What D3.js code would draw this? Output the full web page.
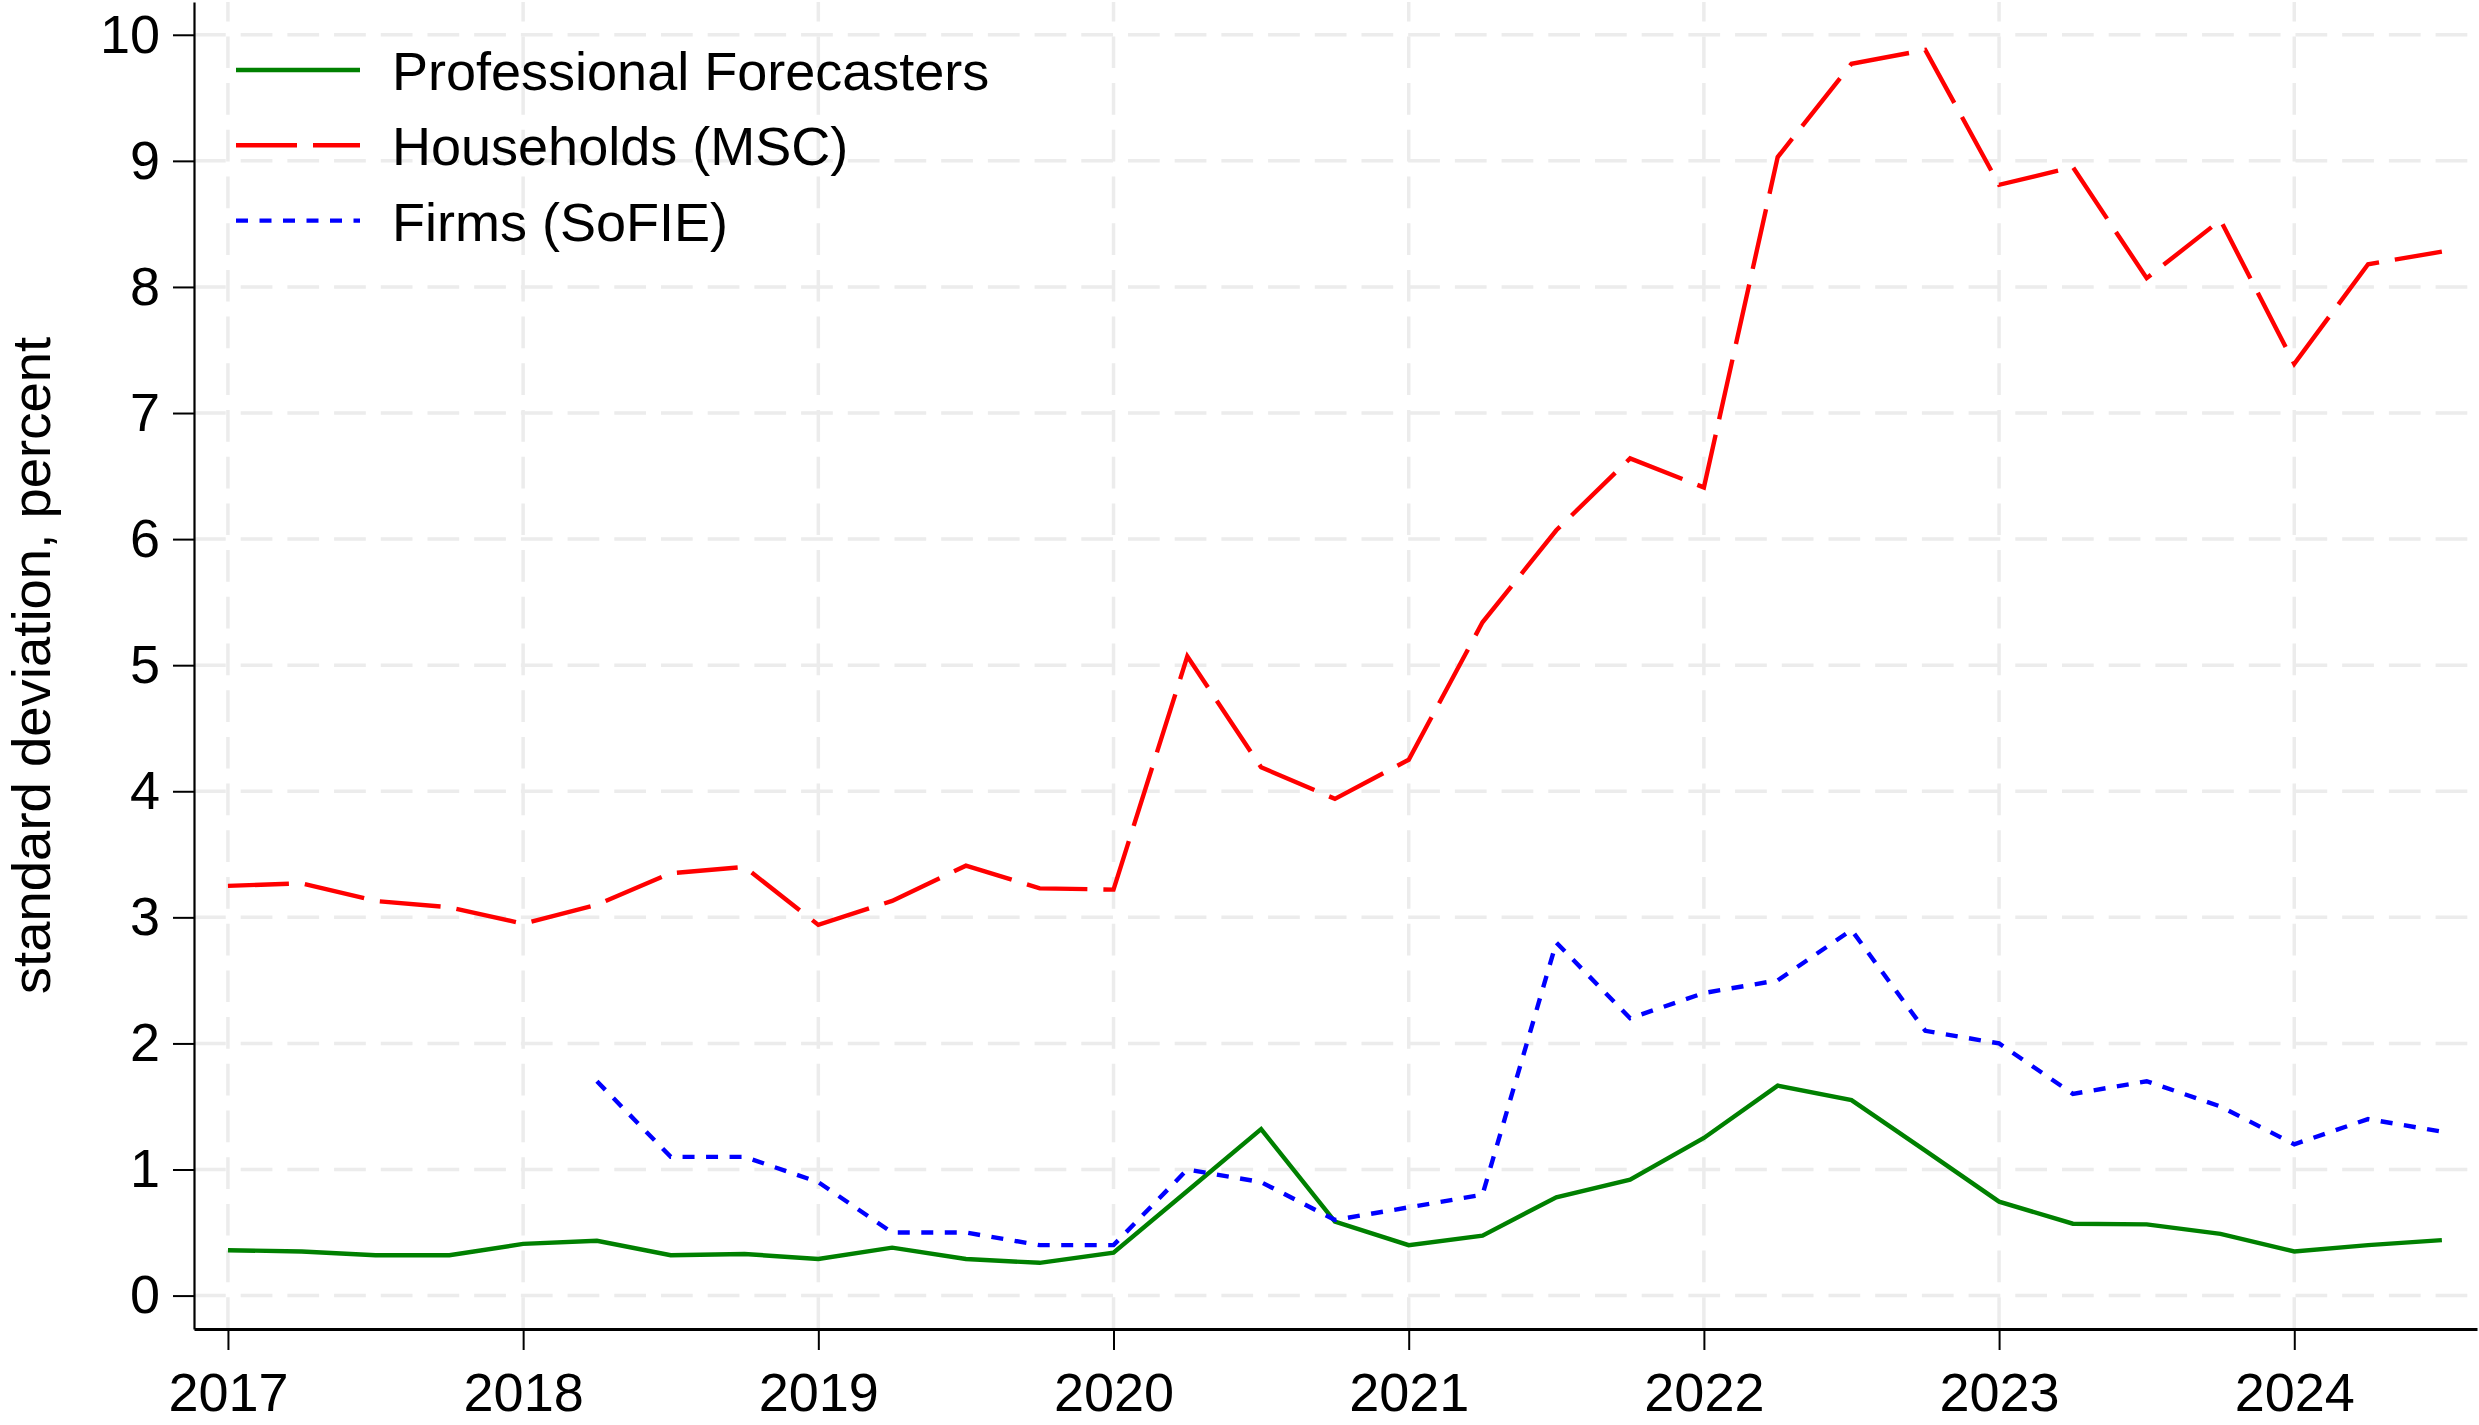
<!DOCTYPE html>
<html lang="en">
<head>
<meta charset="UTF-8">
<title>Dispersion of inflation expectations</title>
<script src="https://d3js.org/d3.v7.min.js"></script>
<style>
    body {
        margin: 0;
        background: #fff;
        font-family: "Liberation Sans", Arial, Helvetica, sans-serif;
    }
    svg { display: block; }
    .axis text {
        font-family: "Liberation Sans", Arial, Helvetica, sans-serif;
        font-size: 54px;
        fill: #000;
    }
    .axis path, .axis line { stroke: #000; }
</style>
</head>
<body>
<script>
// quarterly observations, 2017Q1 .. 2024Q3
const quarters = [
    2017.00, 2017.25, 2017.50, 2017.75,
    2018.00, 2018.25, 2018.50, 2018.75,
    2019.00, 2019.25, 2019.50, 2019.75,
    2020.00, 2020.25, 2020.50, 2020.75,
    2021.00, 2021.25, 2021.50, 2021.75,
    2022.00, 2022.25, 2022.50, 2022.75,
    2023.00, 2023.25, 2023.50, 2023.75,
    2024.00, 2024.25, 2024.50
];

const professional = [
    0.36, 0.35, 0.32, 0.32,
    0.41, 0.435, 0.32, 0.33,
    0.29, 0.38, 0.29, 0.26,
    0.34, 0.83, 1.32, 0.586,
    0.40, 0.475, 0.78, 0.92,
    1.25, 1.665, 1.55, 1.15,
    0.745, 0.57, 0.565, 0.49,
    0.35, 0.40, 0.44
];

const households = [
    3.25, 3.27, 3.13, 3.08,
    2.95, 3.10, 3.35, 3.40,
    2.94, 3.13, 3.41, 3.23,
    3.22, 5.07, 4.19, 3.94,
    4.25, 5.34, 6.07, 6.64,
    6.41, 9.03, 9.77, 9.88,
    8.81, 8.95, 8.07, 8.53,
    7.39, 8.18, 8.28
];

const firms = [
    null, null, null, null,
    null, 1.7, 1.1, 1.1,
    0.9, 0.5, 0.5, 0.4,
    0.4, 1.0, 0.9, 0.6,
    0.7, 0.8, 2.8, 2.2,
    2.4, 2.5, 2.9, 2.1,
    2.0, 1.6, 1.7, 1.5,
    1.2, 1.4, 1.3
];

const yearTicks = [2017, 2018, 2019, 2020, 2021, 2022, 2023, 2024];
const valueTicks = [0, 1, 2, 3, 4, 5, 6, 7, 8, 9, 10];

const seriesNames = ["Professional Forecasters", "Households (MSC)", "Firms (SoFIE)"];

const width = 2479;
const height = 1425;
const plot = { left: 194, right: 2477, top: 2, bottom: 1329 };

const svg = d3.select("body").append("svg")
    .attr("width", width)
    .attr("height", height);

svg.append("rect").attr("width", width).attr("height", height).attr("fill", "#fff");

const x = d3.scaleLinear()
    .domain([2016.885, 2024.619])
    .range([plot.left, plot.right]);

const y = d3.scaleLinear()
    .domain([-0.265, 10.26])
    .range([plot.bottom, plot.top]);

// grid
const grid = svg.append("g").attr("class", "grid");
grid.selectAll("line.h")
    .data(valueTicks)
    .enter().append("line")
    .attr("class", "h")
    .attr("x1", plot.left).attr("x2", plot.right)
    .attr("y1", d => y(d)).attr("y2", d => y(d))
    .attr("stroke", "#ececec")
    .attr("stroke-width", 3.5)
    .attr("stroke-dasharray", "31.7 15");

grid.selectAll("line.v")
    .data(yearTicks)
    .enter().append("line")
    .attr("class", "v")
    .attr("x1", d => x(d)).attr("x2", d => x(d))
    .attr("y1", plot.bottom).attr("y2", plot.top)
    .attr("stroke", "#ececec")
    .attr("stroke-width", 3.5)
    .attr("stroke-dasharray", "31.7 15");

// axes
const xAxis = svg.append("g")
    .attr("class", "axis")
    .attr("transform", `translate(0,${plot.bottom})`)
    .call(d3.axisBottom(x)
        .tickValues(yearTicks)
        .tickFormat(d3.format("d"))
        .tickSize(21)
        .tickSizeOuter(0)
        .tickPadding(23));
xAxis.select(".domain").attr("stroke-width", 3);
xAxis.selectAll(".tick line").attr("stroke-width", 2);

const yAxis = svg.append("g")
    .attr("class", "axis")
    .attr("transform", `translate(${plot.left},0)`)
    .call(d3.axisLeft(y)
        .tickValues(valueTicks)
        .tickSize(21)
        .tickSizeOuter(0)
        .tickPadding(13));
yAxis.select(".domain").attr("stroke-width", 2.2);
yAxis.selectAll(".tick line").attr("stroke-width", 2);

svg.append("text")
    .attr("transform", `translate(50,${(plot.top + plot.bottom) / 2}) rotate(-90)`)
    .attr("text-anchor", "middle")
    .attr("font-size", 54.5)
    .attr("fill", "#000")
    .text("standard deviation, percent");

// lines
const series = [
    { name: seriesNames[0], values: professional, color: "#008000", dash: null },
    { name: seriesNames[1], values: households, color: "#ff0000", dash: "61 16" },
    { name: seriesNames[2], values: firms, color: "#0000ff", dash: "12 11.5" }
];

const line = d3.line()
    .defined(d => d[1] != null)
    .x(d => x(d[0]))
    .y(d => y(d[1]));

svg.append("g")
    .selectAll("path")
    .data(series)
    .enter().append("path")
    .attr("d", s => line(quarters.map((q, i) => [q, s.values[i]])))
    .attr("fill", "none")
    .attr("stroke", s => s.color)
    .attr("stroke-width", 4.4)
    .attr("stroke-linejoin", "miter")
    .attr("stroke-dasharray", s => s.dash);

// legend
const legend = svg.append("g")
    .selectAll("g")
    .data(series)
    .enter().append("g")
    .attr("transform", (d, i) => `translate(236,${70 + i * 75.3})`);

legend.append("line")
    .attr("x1", 0).attr("x2", 124)
    .attr("stroke", d => d.color)
    .attr("stroke-width", 4.4)
    .attr("stroke-dasharray", d => d.dash);

legend.append("text")
    .attr("x", 156)
    .attr("y", 20)
    .attr("font-size", 54)
    .attr("fill", "#000")
    .text(d => d.name);
</script>
</body>
</html>
